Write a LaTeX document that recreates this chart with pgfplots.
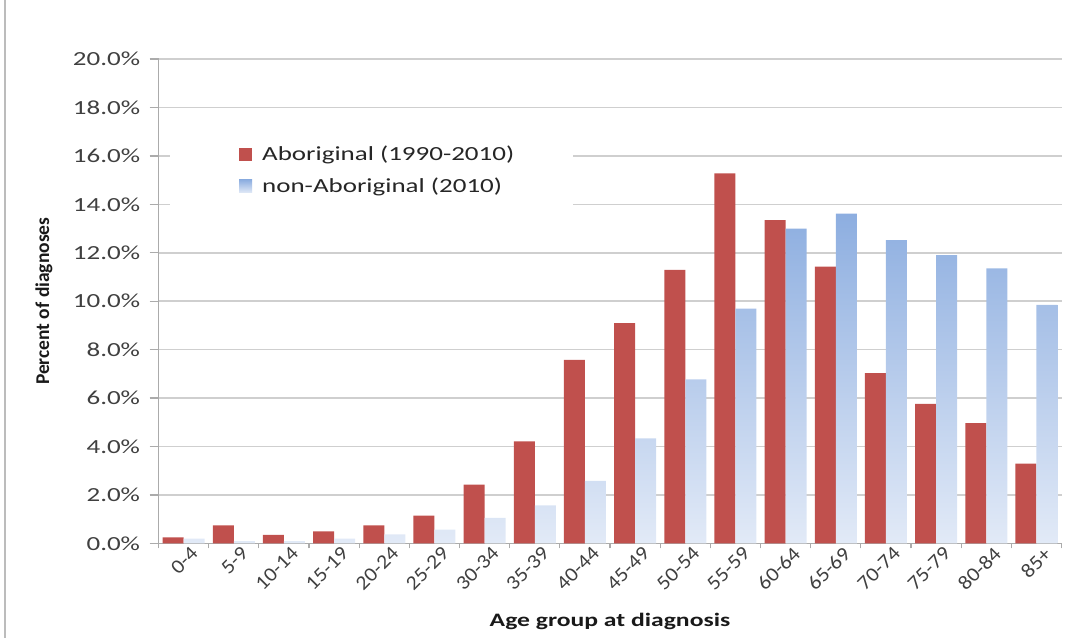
\documentclass[border=0pt]{standalone}
\usepackage{pgfplots}
\pgfplotsset{compat=1.18}
\usepackage{fontspec}
\setmainfont{Carlito}[FakeStretch=1.35]
\newfontfamily\ylabfont{Carlito}
\newfontfamily\xtickfont{Carlito}[FakeStretch=1.1]
\definecolor{redbar}{HTML}{C0504D}
\definecolor{bluetop}{HTML}{8DAEE0}
\definecolor{bluebot}{HTML}{E2EAF7}
\definecolor{tickgray}{HTML}{404040}
\definecolor{gridgray}{HTML}{CFCFCF}
\definecolor{axisgray}{HTML}{ABABAB}
\begin{document}
\begin{tikzpicture}
\useasboundingbox (0,0) rectangle (1088bp,638bp);
\draw[axisgray!80, line width=1.5bp] (5bp,0) -- (5bp,638bp);
\begin{axis}[
  at={(158.5bp,94.5bp)}, anchor=south west,
  scale only axis, width=903bp, height=484.5bp,
  ybar=0pt, bar width=21bp,
  xmin=-0.5, xmax=17.5, ymin=0, ymax=20,
  xtick={0,...,17},
  xticklabels={0-4,5-9,10-14,15-19,20-24,25-29,30-34,35-39,40-44,45-49,50-54,55-59,60-64,65-69,70-74,75-79,80-84,85+},
  minor xtick={-0.5,0.5,...,17.5},
  ytick={0,2,...,20},
  /pgf/number format/assume math mode=true,
  yticklabel={\pgfmathprintnumber[fixed,fixed zerofill,precision=1]{\tick}\%},
  ymajorgrids,
  grid style={gridgray, line width=1.5bp},
  axis x line*=bottom, axis y line*=left,
  axis line style={axisgray, line width=1.5bp},
  tick align=outside,
  major x tick style={draw=none},
  minor x tick style={axisgray, line width=1.3bp, /pgfplots/minor tick length=5bp},
  ytick style={axisgray, line width=1.3bp, /pgfplots/major tick length=9bp},
  ticklabel style={font=\fontsize{20bp}{22bp}\selectfont, color=tickgray},
  xticklabel style={rotate=45, anchor=north east, inner sep=2bp, xshift=8bp, yshift=-1bp, font=\xtickfont\fontsize{20bp}{22bp}\selectfont},
  yticklabel style={inner sep=2bp, xshift=-12bp},
  xlabel={Age group at diagnosis},
  xlabel style={at={(axis description cs:0.5,-0.16)}, anchor=center, font=\bfseries\fontsize{19bp}{23bp}\selectfont, color=black!90},
  ylabel={Percent of diagnoses},
  ylabel style={at={(axis description cs:-0.1268,0.5)}, anchor=center, font=\ylabfont\bfseries\fontsize{19.5bp}{23bp}\selectfont, color=black!90},
  legend style={at={(rel axis cs:0.0127,0.8638)}, anchor=north west, draw=none, fill=white,
    font=\fontsize{20bp}{24bp}\selectfont, text=black!85, inner xsep=69bp, inner ysep=19bp,
    row sep=12bp, nodes={inner sep=2bp}, /tikz/column 1/.style={column sep=8bp}},
  legend cell align=left,
  legend image code/.code={\fill[#1] (0bp,-6.5bp) rectangle (13bp,6.5bp);},
]
\addplot[fill=redbar, draw=none] coordinates {
(0,0.25) (1,0.75) (2,0.36) (3,0.5) (4,0.75) (5,1.15) (6,2.43) (7,4.22) (8,7.58)
(9,9.1) (10,11.3) (11,15.28) (12,13.35) (13,11.43) (14,7.03) (15,5.76) (16,4.97) (17,3.3)};
\addlegendentry{Aboriginal (1990-2010)\hspace*{-18bp}}
\addplot[top color=bluetop, bottom color=bluebot, draw=none] coordinates {
(0,0.2) (1,0.1) (2,0.1) (3,0.2) (4,0.38) (5,0.57) (6,1.06) (7,1.57) (8,2.58)
(9,4.34) (10,6.78) (11,9.7) (12,13.0) (13,13.62) (14,12.52) (15,11.9) (16,11.36) (17,9.85)};
\addlegendentry{non-Aboriginal (2010)}
\end{axis}
\end{tikzpicture}
\end{document}
